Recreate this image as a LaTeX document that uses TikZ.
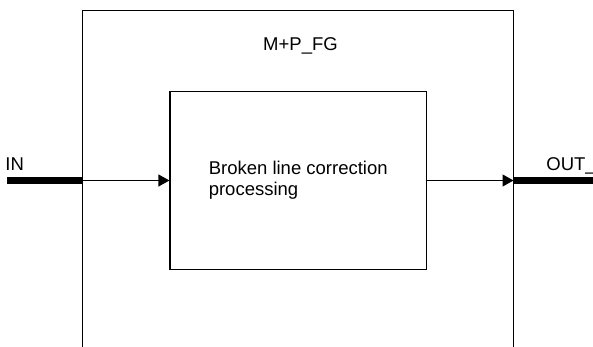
\documentclass[tikz,border=0pt]{standalone}
\usepackage{fontspec}
\setmainfont{Liberation Sans}
\usetikzlibrary{positioning,arrows.meta}

\begin{document}
\begin{tikzpicture}[
  x=0.5pt, y=-0.5pt,
  font=\fontsize{9.25}{10.5}\selectfont,
  block/.style={rectangle, draw, line width=0.6pt, minimum width=128.25pt, minimum height=88.75pt, align=left},
  port/.style={line width=3.75pt},
  arr/.style={-{Triangle[length=5.5pt,width=6pt]}, line width=0.6pt},
  lbl/.style={anchor=base west, inner sep=0pt},
]
\useasboundingbox (0,0) rectangle (593,347);
% outer frame, open at the bottom
\coordinate (fbl) at (82.5,360);
\coordinate (ftl) at (82.5,10.5);
\coordinate (ftr) at (513.5,10.5);
\coordinate (fbr) at (513.5,360);
\draw[line width=0.6pt] (fbl) -- (ftl) -- (ftr) -- (fbr);
\node[anchor=base] (fg) at (300.5,50.5) {M+P\_FG};

\node[block] (proc) at (298.25,180.5) {Broken line correction\\processing};

% ports
\coordinate (inL) at (7,180.5);
\coordinate (inR) at (82.5,180.5);
\coordinate (outL) at (513.5,180.5);
\coordinate (outR) at (600,180.5);
\draw[port] (inL) -- (inR);
\draw[port] (outL) -- (outR);
\node[lbl] (in) at (5,170) {IN};
\node[lbl] (out) at (546,170) {OUT\_};

\draw[arr] (inR) -- (proc.west);
\draw[arr] (proc.east) -- (outL);
\end{tikzpicture}
\end{document}
